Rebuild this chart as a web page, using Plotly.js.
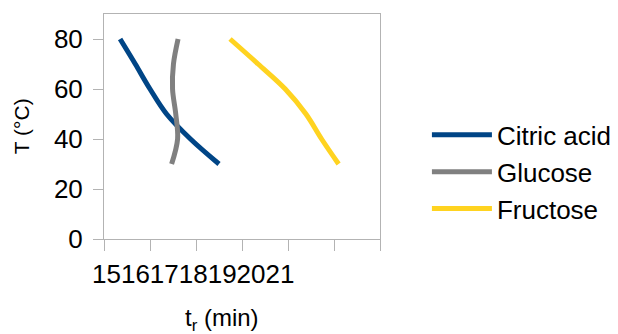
<!DOCTYPE html>
<html>
<head>
<meta charset="utf-8">
<script src="https://cdn.plot.ly/plotly-3.0.1.min.js"></script>
<style>html,body{margin:0;padding:0;background:#fff;}#chart{width:618px;height:334px;}</style>
</head>
<body>
<div id="chart"></div>
<script>
const temps = [30, 40, 50, 60, 70, 80];
const citricAcid = [17.5, 16.88, 16.36, 16.0, 15.68, 15.35];
const glucose = [16.47, 16.60, 16.56, 16.49, 16.51, 16.61];
const fructose = [20.1, 19.73, 19.39, 18.94, 18.35, 17.74];
const seriesNames = ['Citric acid', 'Glucose', 'Fructose'];
const xTickLabels = ['15', '16', '17', '18', '19', '20', '21'];
const yTickValues = [0, 20, 40, 60, 80];
const xTitle = 't<sub>r</sub> (min)';
const yTitle = 'T (°C)';

const colors = ['#004586', '#808080', '#ffd320'];
const font = 'Liberation Sans, Arial, sans-serif';
const seriesX = [citricAcid, glucose, fructose];

const data = seriesX.map((xs, i) => ({
  x: xs, y: temps, name: seriesNames[i], type: 'scatter', mode: 'lines',
  line: {color: colors[i], width: 5, shape: 'spline', smoothing: 1},
  legendgroup: 'g' + i
}));

const layout = {
  width: 618, height: 334,
  margin: {l: 104, r: 238, t: 14, b: 95, pad: 0, autoexpand: false},
  paper_bgcolor: '#fff', plot_bgcolor: '#fff',
  font: {family: font, size: 26, color: '#000'},
  showlegend: true,
  legend: {x: 1.17, xanchor: 'left', y: 0.298, yanchor: 'middle', font: {size: 26, family: font},
           itemwidth: 60, tracegroupgap: 0, bgcolor: 'rgba(0,0,0,0)'},
  xaxis: {range: [15, 21], dtick: 1, tick0: 15, showticklabels: false, ticks: 'outside', ticklen: 11,
          tickcolor: '#b3b3b3', showline: true, mirror: true, linecolor: '#b3b3b3', linewidth: 1,
          showgrid: false, zeroline: false, fixedrange: true, automargin: false},
  yaxis: {range: [0, 90], tickvals: yTickValues, ticks: 'outside', ticklen: 10, tickcolor: '#b3b3b3',
          showline: true, mirror: true, linecolor: '#b3b3b3', linewidth: 1, showgrid: false,
          zeroline: false, ticklabelstandoff: 5, tickfont: {size: 26, family: font}, fixedrange: true,
          automargin: false},
  annotations: [
    {text: xTickLabels.join(''), xref: 'paper', yref: 'paper', x: -0.051, y: (239 - 274) / 225,
     xanchor: 'left', yanchor: 'middle', showarrow: false, font: {size: 26, family: font}},
    {text: xTitle, xref: 'paper', yref: 'paper', x: (222 - 104) / 276, y: (239 - 319) / 225,
     xanchor: 'center', yanchor: 'middle', showarrow: false, font: {size: 24, family: font}},
    {text: yTitle, xref: 'paper', yref: 'paper', x: (21.7 - 104) / 276, y: 0.5, textangle: -90,
     xanchor: 'center', yanchor: 'middle', showarrow: false, font: {size: 21, family: font}}
  ]
};

Plotly.newPlot('chart', data, layout, {displayModeBar: false, staticPlot: true});
</script>
</body>
</html>
